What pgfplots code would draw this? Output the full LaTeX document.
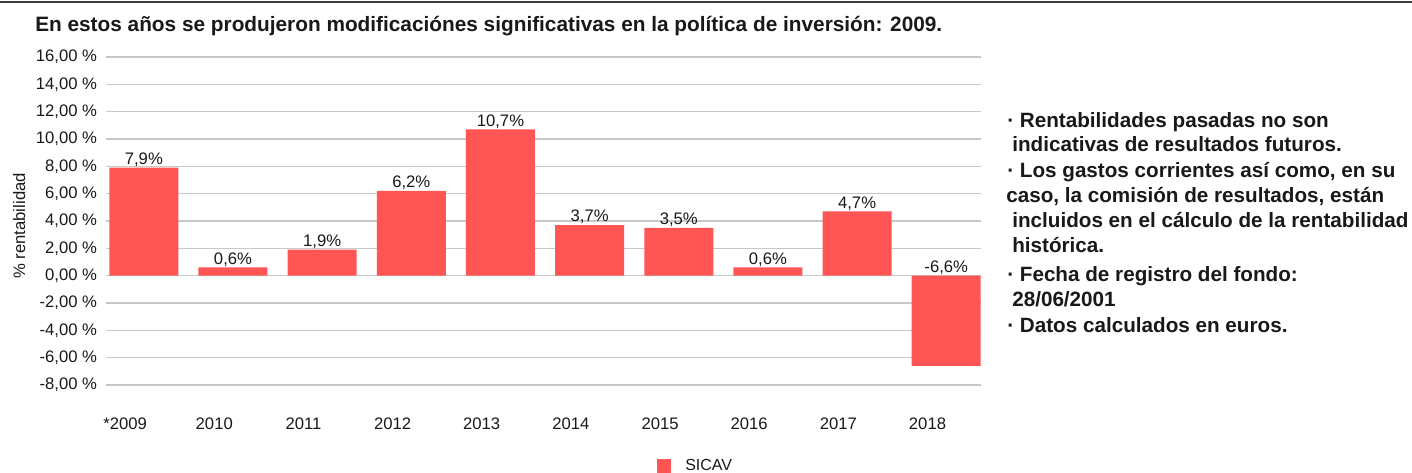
\documentclass[border=0pt]{standalone}
\usepackage{fontspec}
\setmainfont{Liberation Sans}
\usepackage{pgfplots}
\pgfplotsset{compat=1.18}
\definecolor{barred}{RGB}{255,85,85}
\definecolor{gridgray}{RGB}{200,200,200}
\definecolor{txt}{RGB}{25,25,25}
\newcommand{\rt}{\bfseries\fontsize{15.5}{18}\selectfont}
\begin{document}
\begin{tikzpicture}
\useasboundingbox (0,0) rectangle (1059pt,-354.75pt);
\fill[white] (0,0) rectangle (1059pt,-354.75pt);
\draw[line width=1.3pt, txt!85] (0,-1.6pt) -- (1059pt,-1.6pt);
\node[anchor=base west, font=\bfseries\fontsize{15.6}{18}\selectfont, text=txt, inner sep=0pt] at (26.25pt,-23.8pt) {En estos años se produjeron modificaciónes significativas en la política de inversión: 2009.};

\begin{axis}[
  at={(82pt,-288.75pt)}, anchor=south west,
  scale only axis, width=653.55pt, height=246pt,
  xmin=-0.387, xmax=9.387, ymin=-8, ymax=16,
  axis line style={draw=none},
  ytick={-8,-6,...,16},
  yticklabels={{-8,00 \%},{-6,00 \%},{-4,00 \%},{-2,00 \%},{0,00 \%},{2,00 \%},{4,00 \%},{6,00 \%},{8,00 \%},{10,00 \%},{12,00 \%},{14,00 \%},{16,00 \%}},
  xtick={-0.21,0.79,1.79,2.79,3.79,4.79,5.79,6.79,7.79,8.79},
  xticklabels={*2009,2010,2011,2012,2013,2014,2015,2016,2017,2018},
  ymajorgrids, grid style={gridgray, line width=1.1pt},
  tick align=outside, ytick pos=left,
  major tick length=2.5pt,
  ytick style={gridgray, line width=0.8pt},
  xtick style={draw=none},
  ticklabel style={font=\fontsize{12.5}{15}\selectfont, text=txt},
  yticklabel style={anchor=east, inner sep=0pt, xshift=-6.5pt},
  xticklabel style={anchor=north, inner sep=0pt, yshift=-22pt},
  ylabel={\% rentabilidad},
  ylabel style={at={(rel axis cs:-0.1036,0.485)}, anchor=center, font=\fontsize{12.5}{15}\selectfont, text=txt},
  legend style={at={(rel axis cs:0.6285,-0.247)}, anchor=west, draw=none, fill=none, inner sep=0pt, font=\fontsize{12}{14}\selectfont, text=txt, nodes={inner sep=0pt}, /tikz/every odd column/.append style={column sep=10.5pt}},
  legend cell align=left,
  clip=false,
]
\addplot[ybar, bar width=0.774, bar shift=0pt, fill=barred, draw=none,
  legend image code/.code={\fill[barred] (0pt,-5.5pt) rectangle (10.5pt,5.5pt);}]
  coordinates {(0,7.9) (1,0.6) (2,1.9) (3,6.2) (4,10.7) (5,3.7) (6,3.5) (7,0.6) (8,4.7) (9,-6.6)};
\addlegendentry{SICAV}
\addplot[forget plot, draw=none, mark=none, nodes near coords, point meta=explicit symbolic,
  nodes near coords style={anchor=base, yshift=2.5pt, inner sep=0pt, font=\fontsize{12.5}{15}\selectfont, text=txt}]
  coordinates {(0,7.9)[7,9\%] (1,0.6)[0,6\%] (2,1.9)[1,9\%] (3,6.2)[6,2\%] (4,10.7)[10,7\%] (5,3.7)[3,7\%] (6,3.5)[3,5\%] (7,0.6)[0,6\%] (8,4.7)[4,7\%] (9,0)[-6,6\%]};
\end{axis}

\node[anchor=base west, font=\rt, text=txt, inner sep=0pt] at (755.25pt,-95.5pt) {· Rentabilidades pasadas no son};
\node[anchor=base west, font=\rt, text=txt, inner sep=0pt] at (759pt,-114pt) {indicativas de resultados futuros.};
\node[anchor=base west, font=\rt, text=txt, inner sep=0pt] at (755.25pt,-133pt) {· Los gastos corrientes así como, en su};
\node[anchor=base west, font=\rt, text=txt, inner sep=0pt] at (754.5pt,-151.7pt) {caso, la comisión de resultados, están};
\node[anchor=base west, font=\rt, text=txt, inner sep=0pt] at (759pt,-170.5pt) {incluidos en el cálculo de la rentabilidad};
\node[anchor=base west, font=\rt, text=txt, inner sep=0pt] at (759pt,-189.2pt) {histórica.};
\node[anchor=base west, font=\rt, text=txt, inner sep=0pt] at (755.25pt,-211.3pt) {· Fecha de registro del fondo:};
\node[anchor=base west, font=\rt, text=txt, inner sep=0pt] at (759pt,-230pt) {28/06/2001};
\node[anchor=base west, font=\rt, text=txt, inner sep=0pt] at (755.25pt,-249.2pt) {· Datos calculados en euros.};
\end{tikzpicture}
\end{document}
